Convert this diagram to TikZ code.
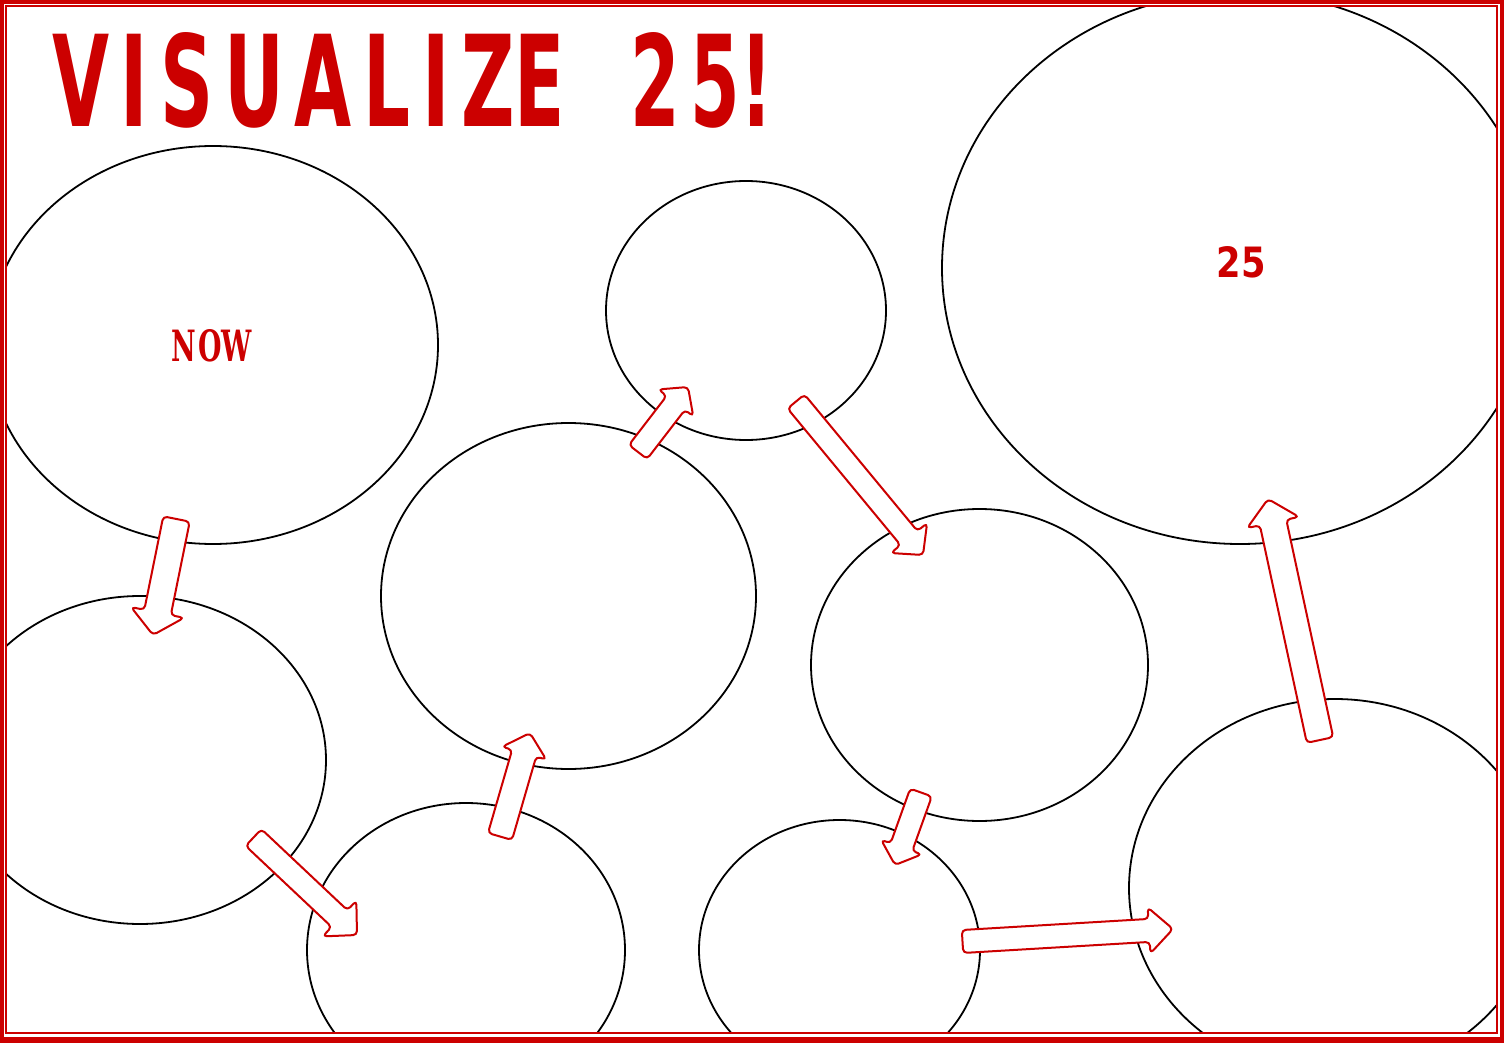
\documentclass[tikz,border=0pt]{standalone}
\usepackage{fontspec}
\usetikzlibrary{calc,shapes.geometric}
\newfontfamily\blocksans{DejaVu Sans}
\newfontfamily\blocktitle{DejaVu Sans}[LetterSpace=16]
\newfontfamily\blockserif{DejaVu Serif}[LetterSpace=6]
\definecolor{vred}{RGB}{204,0,0}
\tikzset{
  bubble/.style={ellipse, draw=black, line width=0.9pt, inner sep=0pt, outer sep=0pt},
  blk/.style={draw=vred, fill=white, line width=1pt, rounded corners=2pt, line join=round},
  lbl/.style={inner sep=0pt, outer sep=0pt, text=vred},
}
% #1 tail, #2 tip, #3 half shaft width, #4 half head width, #5 head length
\newcommand\blkarrow[5]{%
  \coordinate (hb) at ($(#2)!#5!(#1)$);
  \draw[blk] ($(#1)!#3!90:(#2)$) -- ($(hb)!#3!90:(#2)$) -- ($(hb)!#4!90:(#2)$) -- (#2)
     -- ($(hb)!#4!-90:(#2)$) -- ($(hb)!#3!-90:(#2)$) -- ($(#1)!#3!-90:(#2)$) -- cycle;}
\begin{document}
\begin{tikzpicture}[x=0.5pt,y=-0.5pt]
\useasboundingbox (0,0) rectangle (1504,1043);
% frame
\fill[vred] (0,0) rectangle (1504,1043);
\fill[white] (4,4) rectangle (1500,1037);
\begin{scope}
\clip (6,6) rectangle (1497,1033);
\node[bubble, minimum width=225pt, minimum height=199pt] (e1) at (213,345) {};
\node[bubble, minimum width=186pt, minimum height=164pt] (e2) at (140,760) {};
\node[bubble, minimum width=187.5pt, minimum height=173pt] (e3) at (568.5,596) {};
\node[bubble, minimum width=140pt, minimum height=129.5pt] (e4) at (746,310.5) {};
\node[bubble, minimum width=298pt, minimum height=276pt] (e5) at (1240,268) {};
\node[bubble, minimum width=168.5pt, minimum height=156pt] (e6) at (979.5,665) {};
\node[bubble, minimum width=159pt, minimum height=147pt] (e7) at (466,950) {};
\node[bubble, minimum width=140.5pt, minimum height=130pt] (e8) at (839.5,950) {};
\node[bubble, minimum width=206pt, minimum height=189pt] (e9) at (1335,888) {};
\end{scope}
\draw[vred, line width=0.75pt] (6,6) rectangle (1497,1033);
% labels
\node[lbl, anchor=north west] (title1) at (52,33) {\resizebox{256.5pt}{47pt}{\blocktitle\bfseries VISUALIZ\kern0ptE}};
\node[lbl, anchor=north west] (title2) at (630,33) {\resizebox{71.5pt}{47pt}{\blocktitle\bfseries 25\kern0pt!}};
\node[lbl] (now) at (212,346) {\resizebox{40pt}{16pt}{\blockserif\bfseries NO\kern0ptW}};
\node[lbl] (goal) at (1241,262.5) {\resizebox{24.5pt}{15.5pt}{\blocksans\bfseries 25}};
% arrow ends
\coordinate (a1t) at (176.5,519);  \coordinate (a1h) at (153,635);
\coordinate (a2t) at (253.5,837.5);\coordinate (a2h) at (357,935);
\coordinate (a3t) at (500,836.5);  \coordinate (a3h) at (530,733);
\coordinate (a4t) at (638,452);    \coordinate (a4h) at (688,387);
\coordinate (a5t) at (796,401.5);  \coordinate (a5h) at (923,555);
\coordinate (a6t) at (921,792.5);  \coordinate (a6h) at (895,865);
\coordinate (a7t) at (962.5,941.5);\coordinate (a7h) at (1173,929);
\coordinate (a8t) at (1320,740);   \coordinate (a8h) at (1268,499);
\blkarrow{a1t}{a1h}{6.75pt}{13.5pt}{11.5pt}
\blkarrow{a2t}{a2h}{5.75pt}{12.25pt}{12pt}
\blkarrow{a3t}{a3h}{6.25pt}{11.5pt}{10.5pt}
\blkarrow{a4t}{a4h}{5.75pt}{11pt}{10pt}
\blkarrow{a5t}{a5h}{5.5pt}{11.75pt}{11pt}
\blkarrow{a6t}{a6h}{5.75pt}{10.75pt}{9.5pt}
\blkarrow{a7t}{a7h}{5.75pt}{11.5pt}{12pt}
\blkarrow{a8t}{a8h}{6.75pt}{13.25pt}{12pt}
\end{tikzpicture}
\end{document}
